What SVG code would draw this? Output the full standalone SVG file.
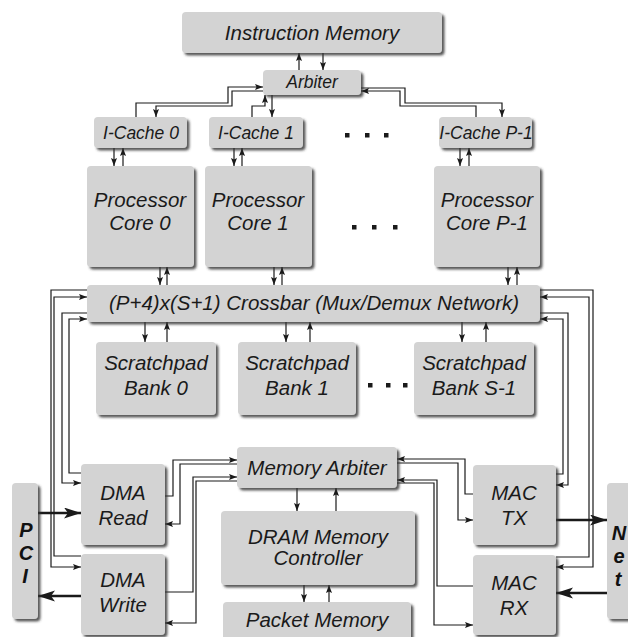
<svg xmlns="http://www.w3.org/2000/svg" width="628" height="637" viewBox="0 0 628 637">
  <defs>
    <filter id="shadow" x="-10%" y="-10%" width="130%" height="140%">
      <feDropShadow dx="2.5" dy="2.5" stdDeviation="1.2" flood-color="#333333" flood-opacity="0.8"/>
    </filter>
    <marker id="arr" markerUnits="userSpaceOnUse" markerWidth="9" markerHeight="7" refX="8" refY="3" orient="auto">
      <path d="M0,0 L8,3 L0,6 L1.5,3 z" fill="#1a1a1a"/>
    </marker>
    <marker id="big" markerUnits="userSpaceOnUse" markerWidth="18" markerHeight="12" refX="17" refY="5.5" orient="auto">
      <path d="M0,0 L17,5.5 L0,11 L4,5.5 z" fill="#1a1a1a"/>
    </marker>
    <style>
      .box { fill: #d3d3d3; filter: url(#shadow); }
      .lbl { font-family: "Liberation Sans", Arial, sans-serif; font-style: italic; font-size: 20.5px; fill: #1a1a1a; text-anchor: middle; }
      .sm { font-size: 17.5px; }
      .io { font-family: "Liberation Sans", Arial, sans-serif; font-style: italic; font-weight: bold; font-size: 20px; fill: #111; text-anchor: middle; }
      .w { fill: none; stroke: #1a1a1a; stroke-width: 1.2; marker-end: url(#arr); }
      .t { fill: none; stroke: #1a1a1a; stroke-width: 2.6; marker-end: url(#big); }
      .dot { fill: #1a1a1a; }
    </style>
  </defs>

  <rect width="628" height="637" fill="#ffffff"/>

  <!-- wires -->
  <g id="connectors">
    <!-- instruction memory / arbiter -->
    <path class="w" d="M299,70 V53"/>
    <path class="w" d="M323,53 V70"/>
    <!-- arbiter / i-caches -->
    <path class="w" d="M136,117 V103 H228 V87 H263"/>
    <path class="w" d="M263,91 H232 V106 H156 V117"/>
    <path class="w" d="M252,117 V106 H265 V95"/>
    <path class="w" d="M272,95 V117"/>
    <path class="w" d="M361,88 H405 V103 H502 V117"/>
    <path class="w" d="M476,117 V106 H400 V91 H361"/>
    <!-- i-caches / cores -->
    <path class="w" d="M114,148 V166"/>
    <path class="w" d="M123,166 V148"/>
    <path class="w" d="M234,148 V166"/>
    <path class="w" d="M242,166 V148"/>
    <path class="w" d="M460,148 V166"/>
    <path class="w" d="M469,166 V148"/>
    <!-- cores / crossbar -->
    <path class="w" d="M160,267 V285"/>
    <path class="w" d="M167,285 V267"/>
    <path class="w" d="M274,267 V285"/>
    <path class="w" d="M282,285 V267"/>
    <path class="w" d="M508,267 V285"/>
    <path class="w" d="M517,285 V267"/>
    <!-- crossbar / scratchpad banks -->
    <path class="w" d="M145,322 V342"/>
    <path class="w" d="M167,342 V322"/>
    <path class="w" d="M286,322 V342"/>
    <path class="w" d="M310,342 V322"/>
    <path class="w" d="M462,322 V342"/>
    <path class="w" d="M486,342 V322"/>
    <!-- crossbar / dma engines -->
    <path class="w" d="M87,290 H51 V567 H81"/>
    <path class="w" d="M81,556 H54 V297 H87"/>
    <path class="w" d="M87,313 H62 V483 H81"/>
    <path class="w" d="M81,473 H69 V319 H87"/>
    <!-- crossbar / mac units -->
    <path class="w" d="M540,290 H593 V567 H556"/>
    <path class="w" d="M556,557 H589 V297 H540"/>
    <path class="w" d="M540,313 H568 V485 H556"/>
    <path class="w" d="M556,474 H563 V319 H540"/>
    <!-- dma engines / memory arbiter -->
    <path class="w" d="M165,496 H173 V460 H237"/>
    <path class="w" d="M237,464 H180 V524 H165"/>
    <path class="w" d="M165,592 H193 V477 H237"/>
    <path class="w" d="M237,481 H196 V623 H165"/>
    <!-- mac units / memory arbiter -->
    <path class="w" d="M473,494 H465 V459 H397"/>
    <path class="w" d="M397,463 H458 V520 H473"/>
    <path class="w" d="M473,586 H437 V480 H397"/>
    <path class="w" d="M397,483 H434 V625 H473"/>
    <!-- memory arbiter / dram controller / packet memory -->
    <path class="w" d="M297,488 V511"/>
    <path class="w" d="M336,511 V488"/>
    <path class="w" d="M304,585 V602"/>
    <path class="w" d="M329,602 V585"/>
    <!-- external ports -->
    <path class="t" d="M38,513 H81"/>
    <path class="t" d="M81,596 H38"/>
    <path class="t" d="M556,520 H607"/>
    <path class="t" d="M607,593 H556"/>
  </g>

  <!-- blocks -->
  <g id="imem"><rect class="box" x="182" y="12" width="260" height="41" rx="4"/><text class="lbl" x="312" y="40">Instruction Memory</text></g>
  <g id="arbiter"><rect class="box" x="263" y="70" width="98" height="25" rx="4"/><text class="lbl sm" x="312" y="88">Arbiter</text></g>

  <g id="icache0"><rect class="box" x="94" y="117" width="93" height="31" rx="4"/><text class="lbl sm" x="141" y="139">I-Cache 0</text></g>
  <g id="icache1"><rect class="box" x="209" y="117" width="94" height="31" rx="4"/><text class="lbl sm" x="256" y="139">I-Cache 1</text></g>
  <g id="icacheP"><rect class="box" x="439" y="117" width="93" height="31" rx="4"/><text class="lbl sm" x="486" y="139">I-Cache P-1</text></g>

  <g id="core0"><rect class="box" x="87" y="166" width="107" height="101" rx="4"/><text class="lbl" x="140" y="207">Processor</text><text class="lbl" x="140" y="230">Core 0</text></g>
  <g id="core1"><rect class="box" x="205" y="166" width="107" height="101" rx="4"/><text class="lbl" x="258" y="207">Processor</text><text class="lbl" x="258" y="230">Core 1</text></g>
  <g id="coreP"><rect class="box" x="434" y="166" width="106" height="101" rx="4"/><text class="lbl" x="487" y="207">Processor</text><text class="lbl" x="487" y="230">Core P-1</text></g>

  <g id="crossbar"><rect class="box" x="87" y="285" width="453" height="37" rx="4"/><text class="lbl" x="314" y="310">(P+4)x(S+1) Crossbar (Mux/Demux Network)</text></g>

  <g id="bank0"><rect class="box" x="96" y="342" width="120" height="73" rx="4"/><text class="lbl" x="156" y="370">Scratchpad</text><text class="lbl" x="156" y="395">Bank 0</text></g>
  <g id="bank1"><rect class="box" x="238" y="342" width="118" height="73" rx="4"/><text class="lbl" x="297" y="370">Scratchpad</text><text class="lbl" x="297" y="395">Bank 1</text></g>
  <g id="bankS"><rect class="box" x="414" y="342" width="120" height="73" rx="4"/><text class="lbl" x="474" y="370">Scratchpad</text><text class="lbl" x="474" y="395">Bank S-1</text></g>

  <g id="memarb"><rect class="box" x="237" y="447" width="160" height="41" rx="4"/><text class="lbl" x="317" y="475">Memory Arbiter</text></g>
  <g id="dram"><rect class="box" x="221" y="511" width="194" height="74" rx="4"/><text class="lbl" x="318" y="544">DRAM Memory</text><text class="lbl" x="318" y="565">Controller</text></g>
  <g id="pktmem"><rect class="box" x="223" y="602" width="188" height="45" rx="4"/><text class="lbl" x="317" y="627">Packet Memory</text></g>

  <g id="dmaread"><rect class="box" x="81" y="464" width="84" height="81" rx="4"/><text class="lbl" x="123" y="500">DMA</text><text class="lbl" x="123" y="525">Read</text></g>
  <g id="dmawrite"><rect class="box" x="81" y="554" width="84" height="81" rx="4"/><text class="lbl" x="123" y="587">DMA</text><text class="lbl" x="123" y="612">Write</text></g>
  <g id="mactx"><rect class="box" x="473" y="465" width="83" height="80" rx="4"/><text class="lbl" x="514" y="500">MAC</text><text class="lbl" x="514" y="525">TX</text></g>
  <g id="macrx"><rect class="box" x="473" y="555" width="83" height="80" rx="4"/><text class="lbl" x="514" y="590">MAC</text><text class="lbl" x="514" y="615">RX</text></g>

  <g id="pci"><rect class="box" x="12" y="483" width="26" height="136" rx="4"/><text class="io" x="26" y="537">P</text><text class="io" x="26" y="560">C</text><text class="io" x="25" y="583">I</text></g>
  <g id="net"><rect class="box" x="607" y="483" width="30" height="136" rx="4"/><text class="io" x="619" y="540">N</text><text class="io" x="619" y="563">e</text><text class="io" x="618" y="586">t</text></g>

  <!-- ellipses between replicated blocks -->
  <g id="ellipses">
    <rect class="dot" x="345" y="133" width="4.5" height="4.5"/>
    <rect class="dot" x="365" y="133" width="4.5" height="4.5"/>
    <rect class="dot" x="384" y="133" width="4.5" height="4.5"/>
    <rect class="dot" x="352" y="225" width="4.5" height="4.5"/>
    <rect class="dot" x="372" y="225" width="4.5" height="4.5"/>
    <rect class="dot" x="393" y="225" width="4.5" height="4.5"/>
    <rect class="dot" x="368" y="383" width="4.5" height="4.5"/>
    <rect class="dot" x="386" y="383" width="4.5" height="4.5"/>
    <rect class="dot" x="403" y="383" width="4.5" height="4.5"/>
  </g>
</svg>
